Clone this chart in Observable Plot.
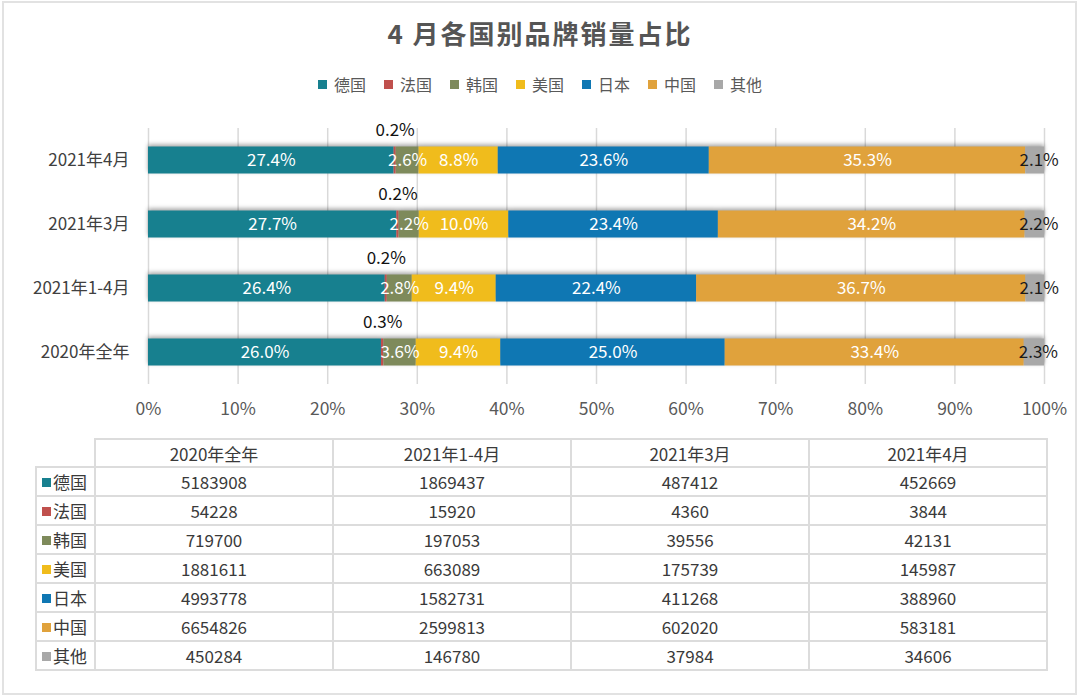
<!DOCTYPE html>
<html>
<head>
<meta charset="utf-8">
<script src="https://cdn.jsdelivr.net/npm/d3@7"></script>
<script src="https://cdn.jsdelivr.net/npm/@observablehq/plot@0.6"></script>
<style>
  html, body { margin: 0; padding: 0; background: #fff; }
  body { width: 1080px; height: 697px; position: relative; overflow: hidden;
         font-family: "Noto Sans CJK SC", "Noto Sans", sans-serif; }
  #frame { position: absolute; left: 2px; top: 1px; width: 1071px; height: 690px;
           border: 2px solid #e2e2e2; }
  #title { position: absolute; left: 0; top: 14px; width: 1080px; text-align: center;
           font-size: 26px; font-weight: bold; color: #555; letter-spacing: 2px; }
  #legend { position: absolute; left: 0; top: 72px; width: 1080px; display: flex;
            justify-content: center; gap: 18px; font-size: 16px; color: #595959; }
  #legend .item { display: flex; align-items: center; gap: 7px; }
  #legend .sw { width: 9px; height: 9px; display: inline-block; }
  #chart { position: absolute; left: 0; top: 110px; }
  #tbl { position: absolute; left: 35px; top: 438px; border-collapse: collapse;
         font-size: 17px; color: #3a3a3a; }
  #tbl td, #tbl th { border: 2px solid #dcdcdc; text-align: center; padding: 0;
                     font-weight: normal; line-height: 1; }
  #tbl th { height: 26px; width: 236px; }
  #tbl td { height: 27px; }
  #tbl th.blank { border: none; width: 57px; }
  #tbl td.lab { text-align: left; padding-left: 5px; width: 52px; white-space: nowrap; }
  #tbl td.lab .sw { width: 9px; height: 9px; display: inline-block; margin-right: 2px;
                    vertical-align: 2px; }
</style>
</head>
<body>
<div id="frame"></div>
<div id="title">4 月各国别品牌销量占比</div>
<div id="legend"></div>
<div id="chart"></div>
<table id="tbl"></table>
<script>
// ---- data ----
const countries = ["德国", "法国", "韩国", "美国", "日本", "中国", "其他"];
const countryColors = ["#17808f", "#c0504d", "#7e8a5b", "#f0bc1c", "#0f77b3", "#e0a23c", "#a8a8a8"];
const tablePeriods = ["2020年全年", "2021年1-4月", "2021年3月", "2021年4月"];
const barPeriods = ["2021年4月", "2021年3月", "2021年1-4月", "2020年全年"];
const xTicks = [0, 0.1, 0.2, 0.3, 0.4, 0.5, 0.6, 0.7, 0.8, 0.9, 1];

// sales in tablePeriods order
const salesGermany = [5183908, 1869437, 487412, 452669];
const salesFrance  = [54228, 15920, 4360, 3844];
const salesKorea   = [719700, 197053, 39556, 42131];
const salesUSA     = [1881611, 663089, 175739, 145987];
const salesJapan   = [4993778, 1582731, 411268, 388960];
const salesChina   = [6654826, 2599813, 602020, 583181];
const salesOther   = [450284, 146780, 37984, 34606];
const salesByCountry = [salesGermany, salesFrance, salesKorea, salesUSA, salesJapan, salesChina, salesOther];

// ---- build table for Plot ----
const data = [];
countries.forEach((c, i) => {
  tablePeriods.forEach((p, j) => data.push({country: c, period: p, value: salesByCountry[i][j]}));
});
const totals = d3.rollup(data, v => d3.sum(v, d => d.value), d => d.period);
const pct = d => (d.value / totals.get(d.period) * 100).toFixed(1) + "%";

// ---- legend ----
const legend = document.getElementById("legend");
countries.forEach((c, i) => {
  const it = document.createElement("div");
  it.className = "item";
  it.innerHTML = `<span class="sw" style="background:${countryColors[i]}"></span><span>${c}</span>`;
  legend.appendChild(it);
});

// ---- chart ----
const stackOpts = {x: "value", y: "period", z: "country", offset: "normalize"};
const chart = Plot.plot({
  width: 1080,
  height: 320,
  marginLeft: 148,
  marginRight: 36,
  marginTop: 18,
  marginBottom: 46,
  style: {fontFamily: "'Noto Sans CJK SC', sans-serif", fontSize: "17px", color: "#404040", background: "transparent"},
  x: {domain: [0, 1]},
  y: {domain: barPeriods, padding: 0},
  color: {domain: countries, range: countryColors},
  marks: [
    Plot.ruleX(xTicks, {stroke: "#d9d9d9", strokeWidth: 1.5}),
    Plot.barX(data, Plot.stackX({...stackOpts, fill: "country", insetTop: 18.5, insetBottom: 18.5})),
    Plot.text(data, Plot.stackX({...stackOpts,
      text: d => (d.country === "法国" || d.country === "其他") ? null : pct(d),
      fill: "white", fontSize: 17})),
    Plot.text(data, Plot.stackX({...stackOpts,
      text: d => d.country === "其他" ? pct(d) : null,
      fill: "#1a1a1a", fontSize: 17, dx: 4})),
    Plot.text(data, Plot.stackX({...stackOpts,
      text: d => d.country === "法国" ? pct(d) : null,
      fill: "#111", fontSize: 17, dy: -30})),
    Plot.axisX(xTicks, {tickSize: 0, tickPadding: 18, label: null, fontSize: 17.5, fill: "#595959",
      tickFormat: d => Math.round(d * 100) + "%"}),
    Plot.axisY({tickSize: 0, tickPadding: 19, label: null, fontSize: 17, fill: "#404040"})
  ]
});
document.getElementById("chart").appendChild(chart);
const barG = chart.querySelector('g[aria-label="bar"]');
if (barG) barG.style.filter = "drop-shadow(0px -2px 2px rgba(0,0,0,0.35))";

// ---- table ----
const tbl = document.getElementById("tbl");
let html = "<tr><th class='blank'></th>" + tablePeriods.map(p => `<th>${p}</th>`).join("") + "</tr>";
countries.forEach((c, i) => {
  html += `<tr><td class="lab"><span class="sw" style="background:${countryColors[i]}"></span>${c}</td>` +
    salesByCountry[i].map(v => `<td>${v}</td>`).join("") + "</tr>";
});
tbl.innerHTML = html;
</script>
</body>
</html>
